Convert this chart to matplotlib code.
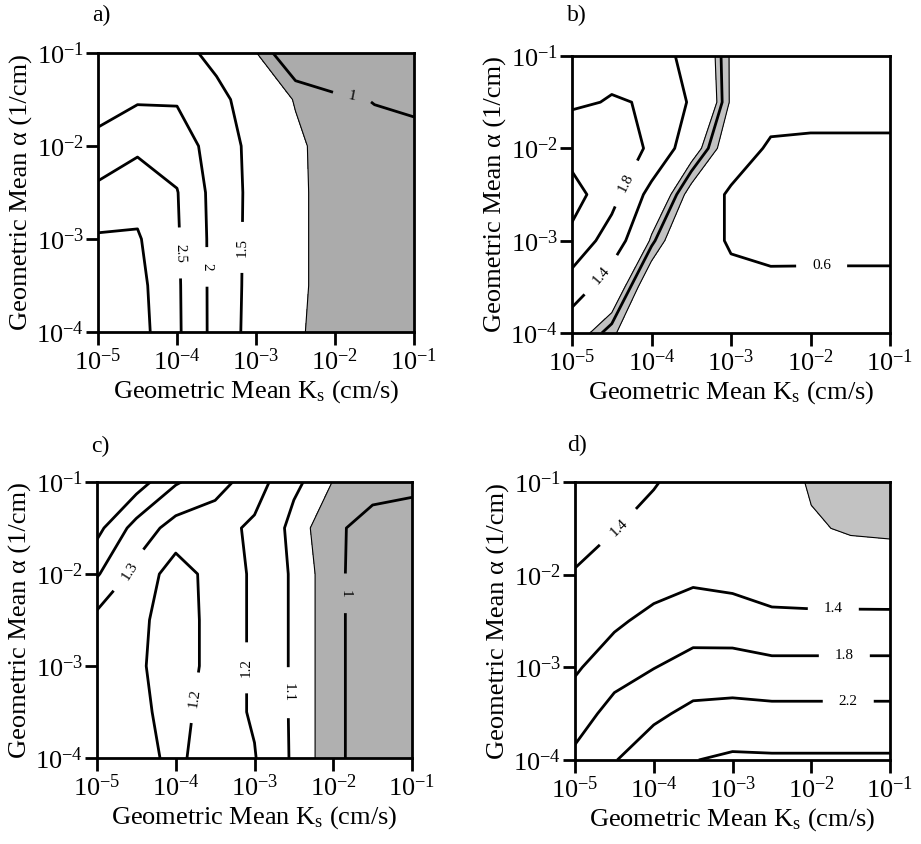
import numpy as np
import matplotlib
matplotlib.use("Agg")
import matplotlib.pyplot as plt

plt.rcParams['font.family'] = ['Liberation Serif', 'DejaVu Serif']
plt.rcParams['mathtext.fontset'] = 'custom'
plt.rcParams['mathtext.rm'] = 'Liberation Serif'
plt.rcParams['mathtext.it'] = 'Liberation Serif:italic'

# ---------------- data (grid in log10 units) ----------------
log_ks = [-5.0, -4.5, -4.0, -3.5, -3.0, -2.5, -2.0, -1.5, -1.0]
log_alpha = [-1.0, -1.5, -2.0, -2.5, -3.0, -3.5, -4.0]

ratio_a = [
    [1.60, 1.80, 1.62, 1.40, 1.21, 0.72, 0.70, 0.75, 0.80],
    [1.75, 1.95, 1.95, 1.60, 1.32, 1.19, 1.05, 0.99, 0.97],
    [2.17, 2.40, 2.30, 1.75, 1.35, 1.23, 1.13, 1.08, 1.05],
    [2.61, 2.82, 2.52, 1.80, 1.35, 1.23, 1.14, 1.10, 1.08],
    [3.06, 3.05, 2.55, 1.82, 1.33, 1.23, 1.14, 1.10, 1.08],
    [3.30, 3.15, 2.57, 1.82, 1.32, 1.23, 1.14, 1.10, 1.08],
    [3.40, 3.20, 2.58, 1.82, 1.30, 1.22, 1.14, 1.10, 1.08],
]
ratio_b = [
    [1.60, 1.70, 1.55, 1.30, 0.90, 0.80, 0.78, 0.78, 0.78],
    [1.75, 1.82, 1.78, 1.35, 0.90, 0.75, 0.70, 0.70, 0.70],
    [2.05, 2.00, 1.75, 1.15, 0.80, 0.55, 0.55, 0.55, 0.55],
    [2.35, 1.95, 1.26, 0.85, 0.55, 0.45, 0.42, 0.42, 0.42],
    [2.10, 1.60, 1.03, 0.70, 0.58, 0.50, 0.48, 0.48, 0.48],
    [1.60, 1.20, 0.78, 0.68, 0.65, 0.68, 0.70, 0.70, 0.70],
    [1.15, 0.95, 0.70, 0.66, 0.70, 0.72, 0.74, 0.74, 0.74],
]
ratio_c = [
    [1.60, 1.55, 1.41, 1.34, 1.25, 1.116, 1.048, 1.03, 1.02],
    [1.53, 1.36, 1.26, 1.24, 1.18, 1.075, 1.015, 0.97, 0.96],
    [1.41, 1.27, 1.15, 1.24, 1.19, 1.085, 1.02, 0.955, 0.95],
    [1.27, 1.23, 1.14, 1.24, 1.19, 1.085, 1.02, 0.955, 0.95],
    [1.25, 1.22, 1.14, 1.24, 1.19, 1.085, 1.02, 0.955, 0.95],
    [1.25, 1.22, 1.17, 1.24, 1.19, 1.085, 1.02, 0.955, 0.95],
    [1.25, 1.23, 1.18, 1.25, 1.205, 1.085, 1.02, 0.955, 0.95],
]
ratio_d = [
    [1.60, 1.55, 1.42, 1.28, 1.20, 1.10, 0.98, 0.90, 0.85],
    [1.52, 1.41, 1.30, 1.28, 1.22, 1.13, 1.02, 0.98, 0.97],
    [1.38, 1.25, 1.20, 1.32, 1.27, 1.17, 1.12, 1.11, 1.10],
    [1.30, 1.33, 1.52, 1.61, 1.59, 1.50, 1.50, 1.50, 1.50],
    [1.35, 1.62, 1.79, 1.94, 1.95, 1.90, 1.90, 1.90, 1.90],
    [1.60, 1.95, 2.12, 2.30, 2.33, 2.31, 2.31, 2.31, 2.31],
    [1.90, 2.18, 2.45, 2.59, 2.66, 2.65, 2.65, 2.65, 2.65],
]

levels_a = [1.0, 1.5, 2.0, 2.5, 3.0]
levels_b = [0.6, 1.0, 1.4, 1.8, 2.2]
levels_c = [1.0, 1.1, 1.2, 1.3, 1.4, 1.5]
levels_d = [1.4, 1.8, 2.2, 2.6]

shade_a = [-10.0, 1.2]
shade_b = [0.92, 1.06]
shade_c = [-10.0, 1.05]
shade_d = [-10.0, 1.0]

label_fmt = {0.6: '0.6', 1.0: '1', 1.1: '1.1', 1.2: '1.2', 1.3: '1.3', 1.4: '1.4',
             1.5: '1.5', 1.8: '1.8', 2.0: '2', 2.2: '2.2', 2.5: '2.5', 2.6: '2.6', 3.0: '3'}

labels_a = [(-3.96, -3.15), (-3.62, -3.30), (-3.23, -3.09), (-1.80, -1.55)]
labels_b = [(-4.25, -2.41), (-4.65, -3.36), (-1.86, -3.28)]
labels_c = [(-4.60, -1.96), (-3.80, -3.34), (-3.06, -3.02), (-2.57, -3.29), (-1.85, -2.21)]
labels_d = [(-4.50, -1.45), (-1.72, -2.37), (-1.58, -2.88), (-1.53, -3.34)]

xtick_exps = [-5, -4, -3, -2, -1]
ytick_exps = [-4, -3, -2, -1]
panel_names = ['a)', 'b)', 'c)', 'd)']

# ---------------- figure ----------------
W, H = 921, 844
fig = plt.figure(figsize=(W / 100, H / 100), dpi=100)

def add_axes_px(l, t, r, b):
    return fig.add_axes([l / W, 1 - b / H, (r - l) / W, (b - t) / H])

rects = [(98, 53, 414, 332), (572, 56, 890, 333), (97, 482, 412, 758), (575, 482, 890, 760)]
fields = [ratio_a, ratio_b, ratio_c, ratio_d]
levels_all = [levels_a, levels_b, levels_c, levels_d]
shades = [shade_a, shade_b, shade_c, shade_d]
labels_all = [labels_a, labels_b, labels_c, labels_d]
title_pos = [(-0.02, 1.135), (-0.016, 1.148), (-0.02, 1.127), (-0.025, 1.133)]
grays = ['#ababab', '#c2c2c2', '#b0b0b0', '#c2c2c2']

X, Y = np.meshgrid(log_ks, log_alpha)

for i in range(4):
    ax = add_axes_px(*rects[i])
    Z = np.array(fields[i])
    lo, hi = shades[i]
    ax.contourf(X, Y, Z, levels=[lo, hi], colors=[grays[i]])
    edge = [v for v in (lo, hi) if v > -5]
    ax.contour(X, Y, Z, levels=edge, colors='k', linewidths=0.8)
    cs = ax.contour(X, Y, Z, levels=levels_all[i], colors='k', linewidths=2.0)
    ax.clabel(cs, manual=labels_all[i], inline=True, inline_spacing=16,
              fmt=label_fmt, fontsize=11)

    ax.set_xlim(-5, -1)
    ax.set_ylim(-4, -1)
    ax.set_xticks(xtick_exps)
    ax.set_xticklabels([r'$10^{%d}$' % e for e in xtick_exps])
    ax.set_yticks(ytick_exps)
    ax.set_yticklabels([r'$10^{%d}$' % e for e in ytick_exps])
    ax.tick_params(direction='out', length=9, width=2, labelsize=19)
    ax.tick_params(axis='x', pad=3)
    ax.tick_params(axis='y', pad=1)
    for s in ax.spines.values():
        s.set_linewidth(2)
    ax.set_xlabel(r'Geometric Mean K$_\mathregular{s}$ (cm/s)', fontsize=19, labelpad=2)
    ax.set_ylabel('Geometric Mean \u03b1 (1/cm)', fontsize=19, labelpad=2)
    tx, ty = title_pos[i]
    ax.text(tx, ty, panel_names[i], transform=ax.transAxes, fontsize=17,
            ha='left', va='center')

fig.savefig('out.png', dpi=100)
